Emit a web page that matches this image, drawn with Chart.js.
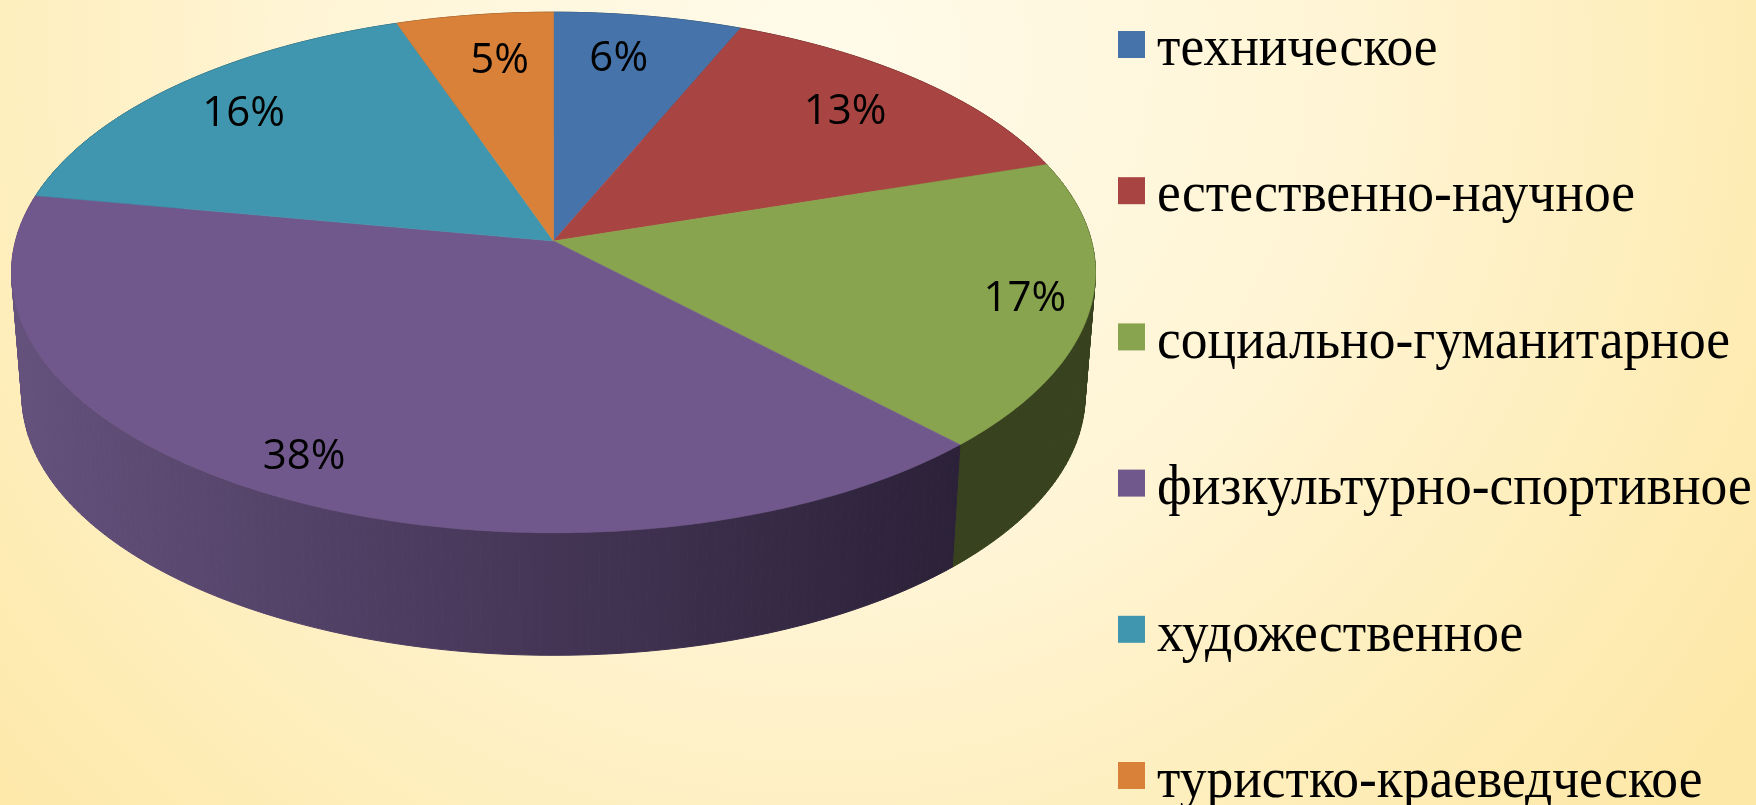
<!DOCTYPE html>
<html lang="ru"><head><meta charset="utf-8">
<style>html,body{margin:0;padding:0;overflow:hidden;background:#fff3cc}canvas{display:block}</style>
<script src="https://cdn.jsdelivr.net/npm/chart.js@4"></script></head>
<body><canvas id="c" width="1756" height="805"></canvas>
<script>
const categories = ['техническое','естественно-научное','социально-гуманитарное','физкультурно-спортивное','художественное','туристко-краеведческое'];
const values = [6,13,17,38,16,5];
const colors = ['#4674AA','#A84442','#88A44E','#71588C','#4096AE','#D98139'];

const G = {ax:553.5, ay:241, A:538, B:256.5, p:0.121, wallDrop:122.5, wallScale:0.981};
const labelRadius = [0.79,0.79,0.88,0.87,0.81,0.78];
const labelShift = [-1.7,-0.4,0,0.5,0.1,1.4];
const proj = (th,r=1)=>{
  const u=r*Math.sin(th), v=r*Math.cos(th), w=1+G.p*v;
  return [G.ax+G.A*u/w, G.ay-G.B*v/w];
};
const low = ([x,y])=>[G.ax+(x-G.ax)*G.wallScale, y+G.wallDrop];
const N = 96;

const pie3d = {
  id:'pie3d',
  beforeDraw(chart){
    const {ctx,width,height}=chart;
    const g=ctx.createRadialGradient(820,60,0,820,60,1120);
    g.addColorStop(0,'#FFFBEA');g.addColorStop(0.45,'#FFF5D6');g.addColorStop(0.8,'#FEEDB8');g.addColorStop(1,'#FDE8A8');
    ctx.fillStyle=g;ctx.fillRect(0,0,width,height);
  },
  beforeDatasetDraw(){return false;},
  afterDatasetsDraw(chart){
    const ctx=chart.ctx, arcs=chart.getDatasetMeta(0).data;
    const wallPurple=ctx.createLinearGradient(20,0,955,0);
    wallPurple.addColorStop(0,'#64517C');wallPurple.addColorStop(0.5,'#48385A');wallPurple.addColorStop(1,'#2B2138');
    const walls=['#2E4560','#5A2523','#38421E',wallPurple,'#23525F','#74451E'];
    const span=a=>[a.startAngle+Math.PI/2,a.endAngle+Math.PI/2];
    arcs.forEach((a,i)=>{
      const [s,e]=span(a);const n=Math.max(4,Math.ceil((e-s)/(2*Math.PI)*N*4));
      ctx.fillStyle=walls[i];ctx.strokeStyle=walls[i];ctx.lineWidth=1;
      for(let k=0;k<n;k++){
        const p=proj(s+(e-s)*k/n),q=proj(s+(e-s)*(k+1)/n),P=low(p),Q=low(q);
        ctx.beginPath();ctx.moveTo(...p);ctx.lineTo(...q);ctx.lineTo(...Q);ctx.lineTo(...P);ctx.closePath();ctx.fill();ctx.stroke();
      }
    });
    arcs.forEach((a,i)=>{
      const [s,e]=span(a);const n=Math.max(4,Math.ceil((e-s)/(2*Math.PI)*N*4));
      ctx.beginPath();ctx.moveTo(G.ax,G.ay);
      for(let k=0;k<=n;k++)ctx.lineTo(...proj(s+(e-s)*k/n));
      ctx.closePath();
      ctx.fillStyle=colors[i];ctx.strokeStyle=colors[i];ctx.lineWidth=0.6;ctx.fill();ctx.stroke();
    });
    ctx.fillStyle='#000';ctx.textAlign='center';ctx.textBaseline='middle';
    ctx.font='42px "Open Sans"';
    arcs.forEach((a,i)=>{
      const [s,e]=span(a);const [x,y]=proj((s+e)/2+labelShift[i]*Math.PI/180,labelRadius[i]);
      ctx.fillText(values[i]+'%',x,y+1);
    });
    ctx.textAlign='left';ctx.textBaseline='alphabetic';
    ctx.font='53.5px "Liberation Serif"';
    categories.forEach((c,i)=>{
      const top=31+i*146.2;
      ctx.fillStyle=colors[i];ctx.fillRect(1118,top,27,27);
      ctx.save();ctx.translate(1157,65+i*146.4);ctx.scale(1,1.08);
      ctx.fillStyle='#000';ctx.fillText(c,0,0);ctx.restore();
    });
  }
};
new Chart(document.getElementById('c'),{
  type:'pie',
  data:{labels:categories,datasets:[{data:values,backgroundColor:colors,borderWidth:0}]},
  options:{responsive:false,animation:false,events:[],
    plugins:{legend:{display:false},tooltip:{enabled:false}}},
  plugins:[pie3d]
});
</script></body></html>
